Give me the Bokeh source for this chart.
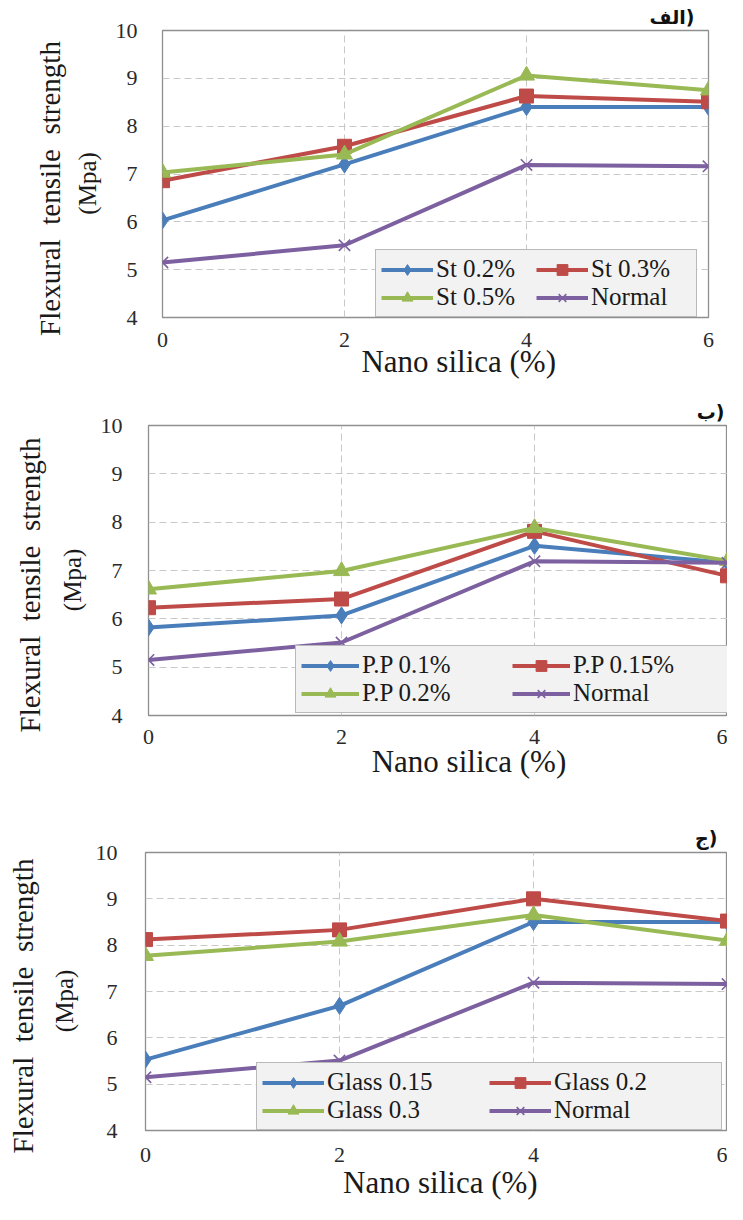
from bokeh.plotting import figure
from bokeh.models import FixedTicker, LinearAxis, Range1d
from bokeh.embed import file_html
from bokeh.resources import INLINE

nano = [0, 2, 4, 6]
y_ticks = [4, 5, 6, 7, 8, 9, 10]

normal = [5.15, 5.51, 7.19, 7.16]

st_labels = ["St 0.2%", "St 0.3%", "St 0.5%", "Normal"]
st_02 = [6.03, 7.2, 8.4, 8.4]
st_03 = [6.86, 7.58, 8.63, 8.51]
st_05 = [7.03, 7.41, 9.06, 8.75]

pp_labels = ["P.P 0.1%", "P.P 0.15%", "P.P 0.2%", "Normal"]
pp_01 = [5.82, 6.07, 7.51, 7.16]
pp_015 = [6.23, 6.41, 7.81, 6.89]
pp_02 = [6.61, 6.99, 7.88, 7.2]

gl_labels = ["Glass 0.15", "Glass 0.2", "Glass 0.3", "Normal"]
gl_015 = [5.53, 6.69, 8.5, 8.5]
gl_02 = [8.12, 8.33, 9.0, 8.52]
gl_03 = [7.77, 8.08, 8.65, 8.1]

panel_titles = ["الف)", "ب)", "ج)"]
x_title = "Nano silica (%)"
y_title = "Flexural  tensile  strength"
y_unit = "(Mpa)"

COLORS = ["#4a7ebb", "#be4b48", "#98b954", "#7d60a0"]
MARKERS = ["diamond", "square", "triangle", "x"]
MSIZES = [17, 14, 16, 16]
SERIF = "Liberation Serif"
NB = "\u00a0"


def panel(series, labels, title, cfg):
    p = figure(width=727, height=cfg["h"], output_backend="svg", toolbar_location=None,
               x_range=Range1d(0, 6), y_range=Range1d(4, 10),
               min_border_left=cfg["bl"], min_border_right=cfg["br"],
               min_border_top=cfg["bt"], min_border_bottom=cfg["bb"])
    p.title.text = title
    p.title.align = "right"
    p.title.offset = cfg["toff"]
    p.title.standoff = cfg["tstand"]
    p.title.text_font = "DejaVu Sans"
    p.title.text_font_size = "19px"
    p.title.text_font_style = "bold"
    p.title.text_color = "#111111"

    p.outline_line_color = "#8f8f8f"
    p.outline_line_width = 1.3
    p.background_fill_color = "white"
    p.border_fill_color = "white"

    for g in (p.xgrid, p.ygrid):
        g.grid_line_color = "#c8c8c8"
        g.grid_line_dash = "7 4"
        g.grid_line_width = 1
    p.xgrid.ticker = FixedTicker(ticks=nano)
    p.ygrid.ticker = FixedTicker(ticks=y_ticks)

    p.xaxis.ticker = FixedTicker(ticks=nano)
    p.yaxis.ticker = FixedTicker(ticks=y_ticks)
    for ax in (p.xaxis[0], p.yaxis[0]):
        ax.axis_line_color = None
        ax.major_tick_line_color = None
        ax.minor_tick_line_color = None
        ax.major_tick_out = 0
        ax.major_tick_in = 0
        ax.minor_tick_out = 0
        ax.major_label_text_font = SERIF
        ax.major_label_text_font_size = "22px"
        ax.major_label_text_color = "#2a2a2a"
    p.xaxis.major_label_standoff = cfg["xs"]
    p.yaxis.major_label_standoff = cfg["ys"]

    p.xaxis.axis_label = NB * cfg["xpad"] + x_title
    p.xaxis.axis_label_text_font = SERIF
    p.xaxis.axis_label_text_font_size = "31px"
    p.xaxis.axis_label_text_font_style = "normal"
    p.xaxis.axis_label_text_color = "#1a1a1a"
    p.xaxis.axis_label_standoff = cfg["xts"]

    p.yaxis.axis_label = y_unit + NB * 3
    p.yaxis.axis_label_text_font = SERIF
    p.yaxis.axis_label_text_font_size = "25px"
    p.yaxis.axis_label_text_font_style = "normal"
    p.yaxis.axis_label_text_color = "#1a1a1a"
    p.yaxis.axis_label_standoff = cfg["mts"]

    outer = LinearAxis(ticker=FixedTicker(ticks=[]),
                       axis_label=y_title.replace(" ", NB) + NB * 4,
                       axis_line_color=None, major_tick_line_color=None,
                       minor_tick_line_color=None, major_tick_out=0, major_tick_in=0,
                       minor_tick_out=0, major_label_standoff=0)
    outer.axis_label_text_font = SERIF
    outer.axis_label_text_font_size = "29px"
    outer.axis_label_text_font_style = "normal"
    outer.axis_label_text_color = "#1a1a1a"
    outer.axis_label_standoff = cfg["ots"]
    p.add_layout(outer, "left")

    for ys, lab, c, m, s in zip(series, labels, COLORS, MARKERS, MSIZES):
        p.line(nano, ys, line_color=c, line_width=4, legend_label=lab)
        if m == "x":
            p.scatter(nano, ys, marker=m, size=s, line_color=c, line_width=1.6,
                      legend_label=lab)
        else:
            p.scatter(nano, ys, marker=m, size=s, fill_color=c, line_color=c,
                      legend_label=lab)

    lg = p.legend[0]
    lg.location = cfg["lloc"]
    lg.orientation = "horizontal"
    lg.ncols = 2
    lg.margin = 0
    lg.padding = 5
    lg.spacing = 0
    lg.glyph_width = cfg["gw"]
    lg.glyph_height = 27
    lg.label_standoff = 3
    lg.label_width = cfg["lw"]
    lg.label_text_font = SERIF
    lg.label_text_font_size = "25px"
    lg.label_text_color = "#1a1a1a"
    lg.label_height = 27
    lg.background_fill_color = "#f2f2f2"
    lg.background_fill_alpha = 1
    lg.border_line_color = "#7f7f7f"
    lg.border_line_width = 1.5
    return p


cfg1 = dict(h=390, bl=162, br=19, bt=30, bb=73, toff=14, tstand=6, xs=15, ys=25,
            xts=-6, xpad=6, mts=12, ots=5, lloc=(213, 0), gw=52, lw=100)
cfg2 = dict(h=397, bl=148, br=0, bt=35, bb=72, toff=3, tstand=6, xs=14, ys=26,
            xts=-3, xpad=8, mts=12, ots=10, lloc=(147, 2), gw=58, lw=150)
cfg3 = dict(h=417, bl=145, br=0, bt=65, bb=74, toff=10, tstand=8, xs=17, ys=28,
            xts=0, xpad=1, mts=15, ots=9, lloc=(111, 0), gw=62, lw=162)

p1 = panel([st_02, st_03, st_05, normal], st_labels, panel_titles[0], cfg1)
p2 = panel([pp_01, pp_015, pp_02, normal], pp_labels, panel_titles[1], cfg2)
p3 = panel([gl_015, gl_02, gl_03, normal], gl_labels, panel_titles[2], cfg3)

open("out.html", "w").write(file_html([p1, p2, p3], INLINE))
